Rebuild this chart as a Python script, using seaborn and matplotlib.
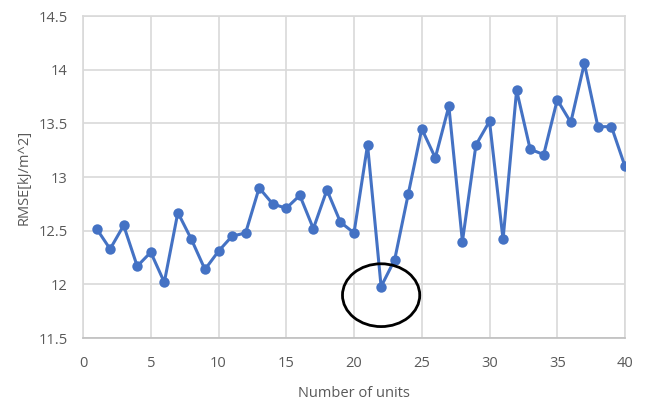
import matplotlib
matplotlib.use("Agg")
import matplotlib.pyplot as plt
from matplotlib.patches import Ellipse
import seaborn as sns
import pandas as pd

units = list(range(1, 41))
rmse = [12.52, 12.33, 12.55, 12.17, 12.30, 12.02, 12.67, 12.42, 12.14, 12.31,
        12.45, 12.48, 12.90, 12.75, 12.71, 12.83, 12.52, 12.88, 12.58, 12.48,
        13.30, 11.98, 12.23, 12.84, 13.45, 13.18, 13.66, 12.40, 13.30, 13.52,
        12.42, 13.81, 13.26, 13.21, 13.72, 13.51, 14.06, 13.47, 13.47, 13.10]
x_ticks = [0, 5, 10, 15, 20, 25, 30, 35, 40]
y_ticks = [11.5, 12, 12.5, 13, 13.5, 14, 14.5]
y_tick_labels = ["11.5", "12", "12.5", "13", "13.5", "14", "14.5"]

df = pd.DataFrame({"units": units, "rmse": rmse})

sns.set_theme(style="white")
plt.rcParams['font.family'] = ['Open Sans', 'DejaVu Sans']

fig = plt.figure(figsize=(6.46, 4.03), dpi=100)
ax = fig.add_axes([0.1285, 0.161, 0.839, 0.799])

sns.lineplot(data=df, x="units", y="rmse", ax=ax, color="#4472C4",
             linewidth=2.2, marker="o", markersize=7.5, markeredgewidth=0,
             zorder=3)

ax.set_xlim(0, 40)
ax.set_ylim(11.5, 14.5)
ax.set_xticks(x_ticks)
ax.set_yticks(y_ticks)
ax.set_yticklabels(y_tick_labels)
ax.grid(True, color="#d9d9d9", linewidth=1.2, zorder=0)
ax.set_axisbelow(True)
for s in ax.spines.values():
    s.set_color("#d9d9d9")
    s.set_linewidth(1.2)
ax.spines["bottom"].set_color("#bfbfbf")
ax.tick_params(axis="both", length=0, labelsize=10.5, labelcolor="#595959")
ax.tick_params(axis="x", pad=13)
ax.tick_params(axis="y", pad=11)
ax.set_xlabel("Number of units", fontsize=10.5, color="#595959", labelpad=11)
ax.set_ylabel("RMSE[kJ/m^2]", fontsize=10.5, color="#595959", labelpad=5)

ell = Ellipse((22.0, 11.90), width=5.7, height=0.585, fill=False,
              edgecolor="black", linewidth=2.0, zorder=4)
ax.add_patch(ell)

fig.savefig("out.png", dpi=100)
